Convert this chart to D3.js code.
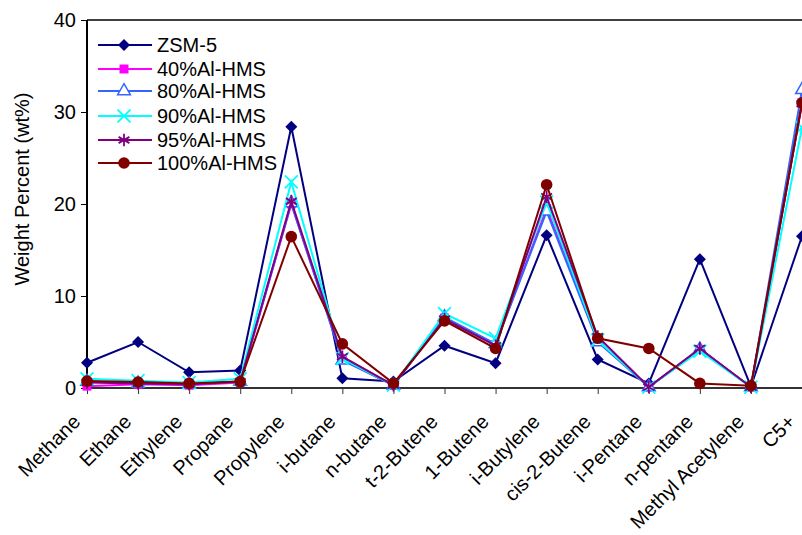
<!DOCTYPE html>
<html>
<head>
<meta charset="utf-8">
<script src="https://cdn.jsdelivr.net/npm/d3@7"></script>
<style>
  body { margin: 0; background: #fff; }
  text { font-family: "Liberation Sans", Arial, sans-serif; fill: #000; }
</style>
</head>
<body>
<div id="chart"></div>
<script>
var width = 802,
  height = 535;

var categories = ["Methane", "Ethane", "Ethylene", "Propane", "Propylene", "i-butane", "n-butane",
  "t-2-Butene", "1-Butene", "i-Butylene", "cis-2-Butene", "i-Pentane", "n-pentane",
  "Methyl Acetylene", "C5+"];

var zsm5   = [2.75, 5.0, 1.7, 1.9, 28.4, 1.05, 0.7, 4.6, 2.7, 16.6, 3.1, 0.5, 14.0, 0.15, 16.5];
var al40   = [0.2, 0.4, 0.3, 0.6, 20.0, 3.1, 0.3, 7.6, 4.7, 19.5, 5.2, 0.1, 4.2, 0.1, 31.0];
var al80   = [0.7, 0.5, 0.4, 0.7, 20.1, 3.0, 0.3, 7.7, 4.8, 19.2, 5.0, 0.1, 4.2, 0.1, 32.4];
var al90   = [1.0, 0.8, 0.6, 1.0, 22.4, 3.2, 0.3, 8.1, 5.4, 20.2, 5.2, 0.1, 4.0, 0.1, 28.3];
var al95   = [0.6, 0.5, 0.4, 0.7, 20.3, 3.4, 0.3, 7.5, 4.6, 20.8, 5.6, 0.1, 4.3, 0.1, 30.9];
var al100  = [0.75, 0.65, 0.5, 0.7, 16.45, 4.8, 0.5, 7.3, 4.3, 22.1, 5.4, 4.3, 0.5, 0.25, 31.0];

var yTicks = [0, 10, 20, 30, 40];

var series = [
  { name: "ZSM-5", values: zsm5, color: "#000080", shape: "diamond" },
  { name: "40%Al-HMS", values: al40, color: "#FF00FF", shape: "square" },
  { name: "80%Al-HMS", values: al80, color: "#3366FF", shape: "triangle" },
  { name: "90%Al-HMS", values: al90, color: "#00FFFF", shape: "x" },
  { name: "95%Al-HMS", values: al95, color: "#800080", shape: "asterisk" },
  { name: "100%Al-HMS", values: al100, color: "#800000", shape: "circle" }
];

var plotLeft = 87, plotTop = 20, plotBottom = 388, plotRight = 802;

var x = d3.scalePoint()
  .domain(categories)
  .range([plotLeft, plotRight])
  .padding(0);

var y = d3.scaleLinear()
  .domain([0, 40])
  .range([plotBottom, plotTop]);

var svg = d3.select("#chart").append("svg")
  .attr("width", width)
  .attr("height", height);

// frame top line
svg.append("line")
  .attr("x1", plotLeft).attr("x2", width + 10)
  .attr("y1", plotTop).attr("y2", plotTop)
  .attr("stroke", "#000").attr("stroke-width", 1.5);

// x axis
var xAxis = svg.append("g")
  .attr("transform", "translate(0," + plotBottom + ")")
  .call(d3.axisBottom(x).tickSize(6).tickFormat(""));
xAxis.select(".domain").attr("stroke", "#333").attr("stroke-width", 2)
  .attr("d", "M" + plotLeft + ",0H" + (width + 10));
xAxis.selectAll(".tick line").attr("stroke", "#333");

xAxis.selectAll(".tick")
  .append("text")
  .attr("transform", "translate(-6,35) rotate(-45)")
  .attr("text-anchor", "end")
  .style("font-size", "20px")
  .attr("fill", "#000")
  .text(function (d) { return d; });

// y axis
var yAxis = svg.append("g")
  .attr("transform", "translate(" + plotLeft + ",0)")
  .call(d3.axisLeft(y).tickValues(yTicks).tickSize(6).tickPadding(5));
yAxis.select(".domain").attr("stroke", "#000").attr("stroke-width", 2)
  .attr("d", "M0," + plotBottom + "V" + plotTop);
yAxis.selectAll(".tick text").style("font-size", "20px").attr("fill", "#000");
yAxis.selectAll(".tick line").attr("stroke", "#000");

svg.append("text")
  .attr("transform", "translate(29,189) rotate(-90)")
  .attr("text-anchor", "middle")
  .style("font-size", "20px")
  .text("Weight Percent (wt%)");

function drawMarker(g, shape, color) {
  if (shape === "diamond") {
    g.append("path").attr("d", d3.symbol().type(d3.symbolSquare).size(72)())
      .attr("transform", "rotate(45)").attr("fill", color);
  } else if (shape === "square") {
    g.append("path").attr("d", d3.symbol().type(d3.symbolSquare).size(80)())
      .attr("fill", color);
  } else if (shape === "triangle") {
    g.append("path").attr("d", d3.symbol().type(d3.symbolTriangle).size(70)())
      .attr("fill", "#fff").attr("stroke", color).attr("stroke-width", 1.5);
  } else if (shape === "x") {
    g.append("path").attr("d", d3.symbol().type(d3.symbolTimes).size(110)())
      .attr("fill", "none").attr("stroke", color).attr("stroke-width", 1.8);
  } else if (shape === "asterisk") {
    g.append("path").attr("d", d3.symbol().type(d3.symbolAsterisk).size(110)())
      .attr("fill", "none").attr("stroke", color).attr("stroke-width", 1.8);
  } else {
    g.append("circle").attr("r", 5.8).attr("fill", color);
  }
}

var line = d3.line()
  .x(function (d, i) { return x(categories[i]); })
  .y(function (d) { return y(d); });

series.forEach(function (s) {
  var g = svg.append("g");
  g.append("path")
    .datum(s.values)
    .attr("d", line)
    .attr("fill", "none")
    .attr("stroke", s.color)
    .attr("stroke-width", 2);
  s.values.forEach(function (v, i) {
    var m = g.append("g")
      .attr("transform", "translate(" + x(categories[i]) + "," + y(v) + ")");
    drawMarker(m, s.shape, s.color);
  });
});

// legend
var legend = svg.append("g");
var legendY = [45, 69, 91, 116, 140, 163];
series.forEach(function (s, i) {
  var g = legend.append("g").attr("transform", "translate(0," + legendY[i] + ")");
  g.append("line").attr("x1", 98).attr("x2", 152).attr("y1", 0).attr("y2", 0)
    .attr("stroke", s.color).attr("stroke-width", 2);
  var m = g.append("g").attr("transform", "translate(124,0)");
  drawMarker(m, s.shape, s.color);
  g.append("text").attr("x", 157).attr("y", 0).attr("dy", "0.35em")
    .style("font-size", "20px")
    .text(s.name);
});
</script>
</body>
</html>
